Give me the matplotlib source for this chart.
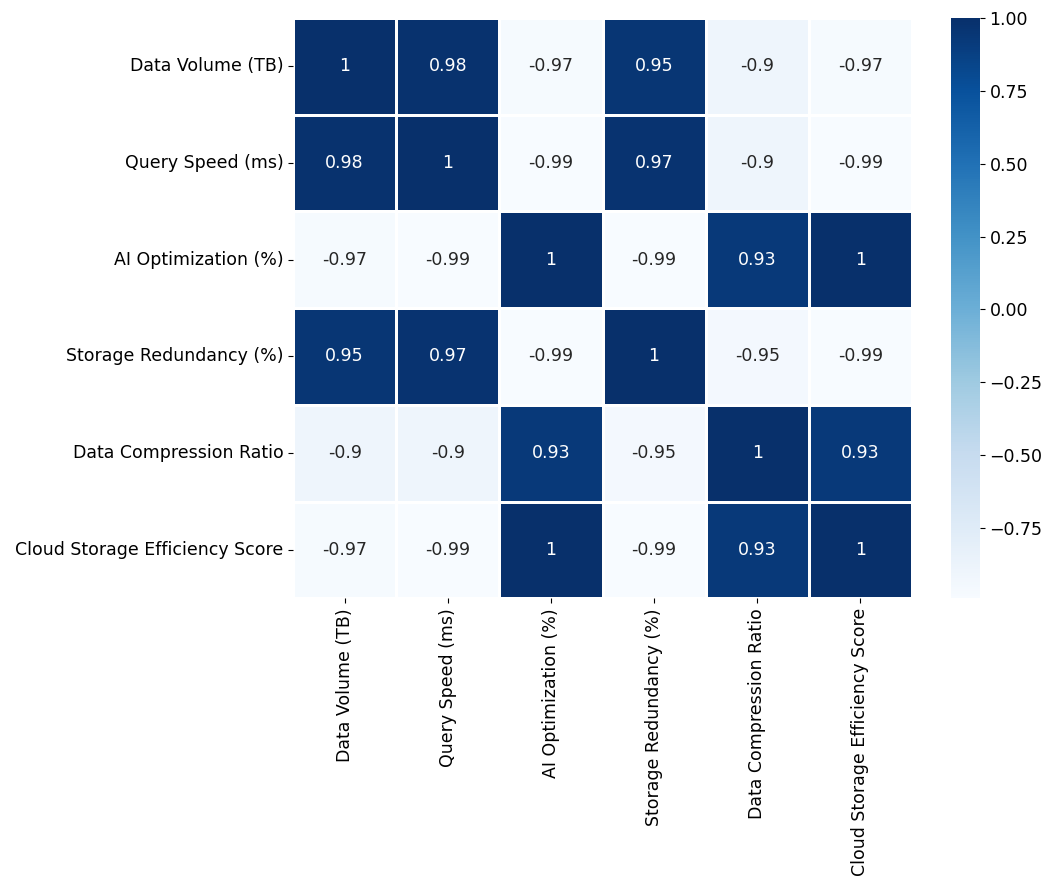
import matplotlib
matplotlib.use("Agg")
import matplotlib.pyplot as plt
import seaborn as sns
import numpy as np
import pandas as pd

labels = ["Data Volume (TB)", "Query Speed (ms)", "AI Optimization (%)",
          "Storage Redundancy (%)", "Data Compression Ratio",
          "Cloud Storage Efficiency Score"]

row_dv = [1.00, 0.98, -0.97, 0.95, -0.90, -0.97]
row_qs = [0.98, 1.00, -0.99, 0.97, -0.90, -0.99]
row_ai = [-0.97, -0.99, 1.00, -0.99, 0.93, 1.00]
row_sr = [0.95, 0.97, -0.99, 1.00, -0.95, -0.99]
row_dc = [-0.90, -0.90, 0.93, -0.95, 1.00, 0.93]
row_cs = [-0.97, -0.99, 1.00, -0.99, 0.93, 1.00]

corr = pd.DataFrame([row_dv, row_qs, row_ai, row_sr, row_dc, row_cs],
                    index=labels, columns=labels)

fig = plt.figure(figsize=(10.58, 8.89), dpi=100)
ax = fig.add_axes([0.277, 0.327, 0.585, 0.653])
cax = fig.add_axes([0.899, 0.327, 0.027, 0.653])
sns.heatmap(corr, annot=True, cmap="Blues", linewidths=2, linecolor="white",
            ax=ax, cbar_ax=cax, annot_kws={"fontsize": 12.5})
ax.tick_params(axis="both", labelsize=12.5)
cax.tick_params(labelsize=12.5)
plt.setp(ax.get_xticklabels(), rotation=90)
plt.setp(ax.get_yticklabels(), rotation=0)
fig.savefig("out.png", dpi=100)
